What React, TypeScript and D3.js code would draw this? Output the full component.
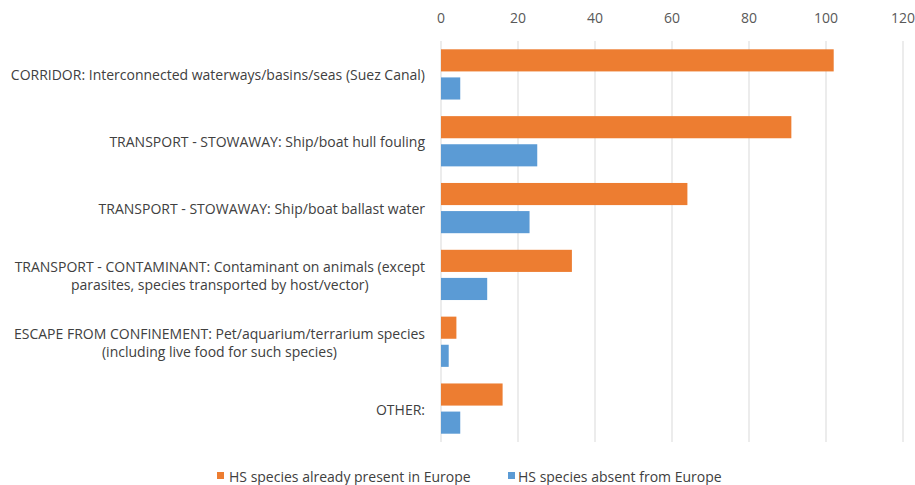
import React from "react";
import * as d3 from "d3";

const categories: string[][] = [
  ["CORRIDOR: Interconnected waterways/basins/seas (Suez Canal)"],
  ["TRANSPORT - STOWAWAY: Ship/boat hull fouling"],
  ["TRANSPORT - STOWAWAY: Ship/boat ballast water"],
  ["TRANSPORT - CONTAMINANT: Contaminant on animals (except", "parasites, species transported by host/vector)"],
  ["ESCAPE FROM CONFINEMENT: Pet/aquarium/terrarium species", "(including live food for such species)"],
  ["OTHER:"],
];
const seriesNames = ["HS species already present in Europe", "HS species absent from Europe"];
const presentValues = [102, 91, 64, 34, 4, 16];
const absentValues = [5, 25, 23, 12, 2, 5];
const xTicks = [0, 20, 40, 60, 80, 100, 120];

const W = 915;
const H = 485;
const COLORS = ["#ED7D31", "#5B9BD5"];
const FONT = "'Open Sans', 'Noto Sans', sans-serif";

export default function App() {
  const x = d3.scaleLinear().domain([0, 120]).range([441, 903]);
  const idx = categories.map((_, i) => String(i));
  const y0 = d3.scaleBand<string>().domain(idx).range([41, 442]).padding(0);
  const bw = y0.bandwidth();
  const y1 = d3
    .scaleBand<string>()
    .domain(["0", "1"])
    .range([8.3, bw - 8.3])
    .paddingInner(0.213)
    .paddingOuter(0);
  const series = [presentValues, absentValues];

  return (
    <svg
      width={W}
      height={H}
      style={{ position: "absolute", left: 0, top: 0, display: "block", background: "#fff" }}
      fontFamily={FONT}
    >
      <rect x={0} y={0} width={W} height={H} fill="#fff" />
      {xTicks.map((t) => (
        <line key={"g" + t} x1={x(t)} x2={x(t)} y1={41} y2={442} stroke="#d9d9d9" strokeWidth={1} />
      ))}
      {xTicks.map((t) => (
        <text key={"t" + t} x={x(t)} y={23} textAnchor="middle" fontSize={14} fill="#595959">
          {t}
        </text>
      ))}
      {categories.map((_, i) => (
        <g key={"c" + i} transform={`translate(0,${y0(String(i))})`}>
          {series.map((vals, s) => (
            <rect
              key={s}
              x={x(0)}
              y={y1(String(s))}
              width={x(vals[i]) - x(0)}
              height={y1.bandwidth()}
              fill={COLORS[s]}
            />
          ))}
        </g>
      ))}
      {categories.map((lines, i) => {
        const cy = (y0(String(i)) as number) + bw / 2;
        const lh = 18;
        const start = cy - ((lines.length - 1) * lh) / 2;
        return (
          <text key={"l" + i} fontSize={14} fill="#404040" textAnchor="middle" dominantBaseline="central">
            {lines.map((ln, j) => (
              <tspan key={j} x={0} y={start + j * lh} className="cl">
                {ln}
              </tspan>
            ))}
          </text>
        );
      })}
      <g>
        <rect x={217} y={472} width={7} height={7} fill={COLORS[0]} />
        <text x={229} y={476} fontSize={14} fill="#404040" dominantBaseline="central">
          {seriesNames[0]}
        </text>
        <rect x={508} y={472} width={7} height={7} fill={COLORS[1]} />
        <text x={518} y={476} fontSize={14} fill="#404040" dominantBaseline="central">
          {seriesNames[1]}
        </text>
      </g>
      <LabelAligner />
    </svg>
  );
}

// Right-align each multi-line label block at x=425 while centering its lines.
function LabelAligner() {
  const ref = React.useRef<SVGGElement>(null);
  React.useEffect(() => {
    const svg = ref.current?.ownerSVGElement;
    if (!svg) return;
    const texts = Array.from(svg.querySelectorAll("text")).filter((t) => t.querySelector("tspan.cl"));
    texts.forEach((t) => {
      const spans = Array.from(t.querySelectorAll("tspan")) as SVGTSpanElement[];
      const maxW = d3.max(spans, (s) => s.getComputedTextLength()) || 0;
      const cx = 425 - maxW / 2;
      spans.forEach((s) => s.setAttribute("x", String(cx)));
    });
  }, []);
  return <g ref={ref} />;
}
